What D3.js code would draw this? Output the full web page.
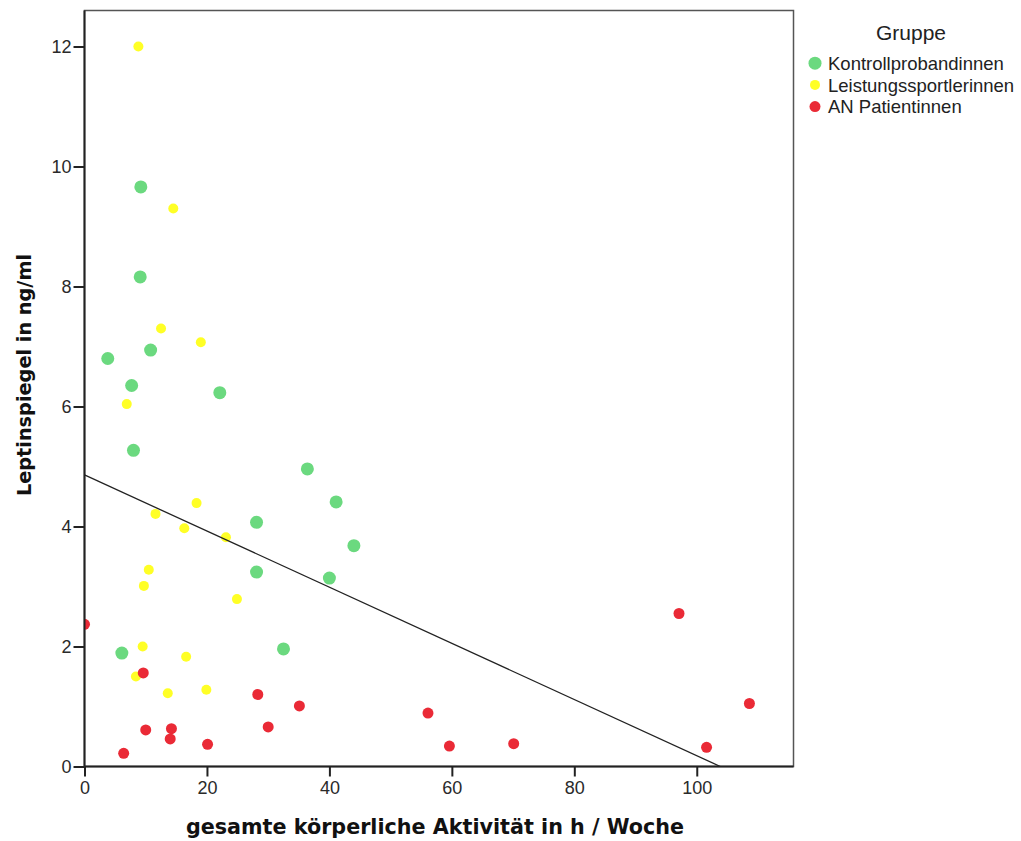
<!DOCTYPE html>
<html>
<head>
<meta charset="utf-8">
<script src="https://cdn.jsdelivr.net/npm/d3@7"></script>
<style>
  html, body { margin: 0; padding: 0; background: #fff; }
  svg { display: block; }
</style>
</head>
<body>
<svg id="chart" width="1021" height="841"></svg>
<script>
// Gesamte körperliche Aktivität (h/Woche) vs. Leptinspiegel (ng/ml), nach Gruppe
const groups = ["Kontrollprobandinnen", "Leistungssportlerinnen", "AN Patientinnen"];
const groupColors = ["#6bd97f", "#ffff26", "#ea2a36"];
const groupRadius = [6.5, 5, 5.5];

const kontrollAktivitaet = [9.2, 9.1, 3.8, 10.8, 7.7, 22.1, 8.0, 36.4, 41.1, 28.1, 44.0, 28.1, 40.0, 6.1, 32.5];
const kontrollLeptin     = [9.66, 8.16, 6.80, 6.94, 6.35, 6.23, 5.27, 4.96, 4.41, 4.07, 3.68, 3.24, 3.14, 1.89, 1.96];

const sportAktivitaet = [8.8, 14.5, 12.5, 19.0, 6.9, 18.3, 11.6, 16.3, 23.1, 10.5, 9.7, 24.9, 9.5, 16.6, 8.4, 13.6, 19.9];
const sportLeptin     = [12.0, 9.30, 7.30, 7.07, 6.04, 4.39, 4.21, 3.97, 3.82, 3.28, 3.01, 2.79, 2.00, 1.83, 1.50, 1.22, 1.28];

const anAktivitaet = [0.0, 9.6, 10.0, 14.2, 14.0, 6.4, 20.1, 28.3, 30.0, 35.1, 56.1, 59.6, 70.1, 97.1, 101.6, 108.6];
const anLeptin     = [2.37, 1.56, 0.61, 0.63, 0.46, 0.22, 0.37, 1.20, 0.66, 1.01, 0.89, 0.34, 0.38, 2.55, 0.32, 1.05];

// Gesamtregression über alle Gruppen: Achsenabschnitt und Steigung
const fitIntercept = 4.86;
const fitSlope = -0.0468;

const xTicks = [0, 20, 40, 60, 80, 100];
const yTicks = [0, 2, 4, 6, 8, 10, 12];
const xDomain = [0, 115.8];
const yDomain = [0, 12.6];

const series = [
  { x: kontrollAktivitaet, y: kontrollLeptin },
  { x: sportAktivitaet, y: sportLeptin },
  { x: anAktivitaet, y: anLeptin }
];

const svg = d3.select("#chart");
const plot = { left: 84.5, right: 793.5, top: 10.5, bottom: 766.5 };

const x = d3.scaleLinear().domain(xDomain).range([plot.left, plot.right]);
const y = d3.scaleLinear().domain(yDomain).range([plot.bottom, plot.top]);

// Rahmen
svg.append("rect")
  .attr("x", plot.left).attr("y", plot.top)
  .attr("width", plot.right - plot.left).attr("height", plot.bottom - plot.top)
  .attr("fill", "#fff").attr("stroke", "#555").attr("stroke-width", 1.5);

svg.append("clipPath").attr("id", "plotclip")
  .append("rect")
  .attr("x", plot.left).attr("y", plot.top)
  .attr("width", plot.right - plot.left).attr("height", plot.bottom - plot.top);

// Punkte
const pts = svg.append("g").attr("clip-path", "url(#plotclip)");
series.forEach((s, gi) => {
  const data = s.x.map((v, i) => ({ x: v, y: s.y[i] }));
  pts.selectAll(null).data(data).enter().append("circle")
    .attr("cx", d => x(d.x))
    .attr("cy", d => y(d.y))
    .attr("r", groupRadius[gi])
    .attr("fill", groupColors[gi]);
});

// Regressionsgerade
const xZero = -fitIntercept / fitSlope;
const fitLine = [[0, fitIntercept], [xZero, 0]];
svg.append("path")
  .attr("clip-path", "url(#plotclip)")
  .attr("d", d3.line().x(d => x(d[0])).y(d => y(d[1]))(fitLine))
  .attr("fill", "none").attr("stroke", "#222").attr("stroke-width", 1.3);

// Achsen
const xAxis = svg.append("g")
  .attr("transform", `translate(0,${plot.bottom})`)
  .call(d3.axisBottom(x).tickValues(xTicks).tickSize(10).tickSizeOuter(0).tickPadding(5));
const yAxis = svg.append("g")
  .attr("transform", `translate(${plot.left},0)`)
  .call(d3.axisLeft(y).tickValues(yTicks).tickSize(11).tickSizeOuter(0).tickPadding(2));

[xAxis, yAxis].forEach(ax => {
  ax.select(".domain").attr("stroke", "#222").attr("stroke-width", 2);
  ax.selectAll(".tick line").attr("stroke", "#222").attr("stroke-width", 2);
  ax.selectAll(".tick text")
    .attr("fill", "#2a2a2a")
    .style("font-family", "'Liberation Sans', Arial, sans-serif")
    .style("font-size", "18px");
});
xAxis.select(".domain").attr("d", `M${plot.left},0H${plot.right}`);
yAxis.select(".domain").attr("d", `M0,${plot.bottom}V${plot.top}`);

// Achsentitel
svg.append("text")
  .attr("x", 435).attr("y", 833.5)
  .attr("text-anchor", "middle")
  .style("font-family", "'DejaVu Sans', Verdana, sans-serif")
  .style("font-weight", "bold")
  .style("font-size", "20.7px")
  .attr("fill", "#111")
  .text("gesamte körperliche Aktivität in h / Woche");

svg.append("text")
  .attr("transform", "translate(31,375) rotate(-90)")
  .attr("text-anchor", "middle")
  .style("font-family", "'DejaVu Sans', Verdana, sans-serif")
  .style("font-weight", "bold")
  .style("font-size", "19.3px")
  .attr("fill", "#111")
  .text("Leptinspiegel in ng/ml");

// Legende
const legend = svg.append("g");
legend.append("text")
  .attr("x", 911).attr("y", 40)
  .attr("text-anchor", "middle")
  .style("font-family", "'Liberation Sans', Arial, sans-serif")
  .style("font-size", "21px")
  .attr("fill", "#222")
  .text("Gruppe");

groups.forEach((g, i) => {
  const base = 70 + i * 21.7;
  legend.append("circle")
    .attr("cx", 815).attr("cy", base - 6.8)
    .attr("r", groupRadius[i])
    .attr("fill", groupColors[i]);
  legend.append("text")
    .attr("x", 828).attr("y", base)
    .style("font-family", "'Liberation Sans', Arial, sans-serif")
    .style("font-size", "18.5px")
    .attr("fill", "#222")
    .text(g);
});
</script>
</body>
</html>
